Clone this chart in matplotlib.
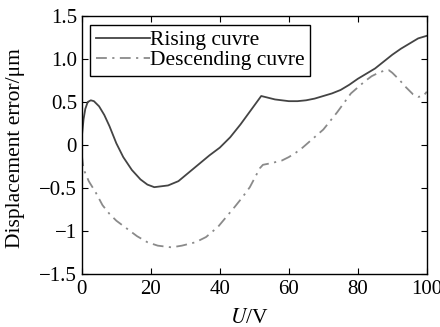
import matplotlib
matplotlib.use("Agg")
import matplotlib.pyplot as plt
import numpy as np

plt.rcParams['font.family'] = ['Liberation Serif', 'DejaVu Serif']
plt.rcParams['mathtext.fontset'] = 'stix'

# rising curve (U in V, error in um)
u_rise = [0, 0.5, 1, 1.7, 2.6, 3.5, 5, 6.5, 8, 10, 12, 14.5, 17, 19, 21, 23, 25,
          28, 31, 34, 37, 40, 43, 46, 48, 50, 52, 54, 56, 58, 60, 62.5, 65, 67.5,
          70, 72.5, 75, 77.5, 80, 82.5, 85, 87.5, 90, 92.5, 95, 97.5, 100]
e_rise = [0.10, 0.30, 0.42, 0.50, 0.52, 0.51, 0.45, 0.35, 0.22, 0.02, -0.14, -0.29,
          -0.40, -0.46, -0.49, -0.48, -0.47, -0.42, -0.32, -0.22, -0.12, -0.03, 0.09,
          0.24, 0.35, 0.46, 0.57, 0.55, 0.53, 0.52, 0.51, 0.51, 0.52, 0.54, 0.57,
          0.60, 0.64, 0.70, 0.77, 0.83, 0.89, 0.97, 1.05, 1.12, 1.18, 1.24, 1.27]

# descending curve
u_desc = [0, 0.5, 2, 4, 6, 8, 10, 13, 16, 19, 22, 26, 29, 33, 36, 39.5, 42, 44.3,
          46.5, 48.7, 51.6, 52.5, 55, 58, 60, 62, 64, 66, 68, 70, 72, 74, 76, 78,
          80, 82, 84, 86, 88, 89, 90, 92, 94, 96, 97.5, 99, 100]
e_desc = [-0.12, -0.28, -0.42, -0.55, -0.70, -0.80, -0.88, -0.97, -1.06, -1.13,
          -1.17, -1.19, -1.17, -1.13, -1.07, -0.95, -0.83, -0.72, -0.61, -0.49,
          -0.27, -0.23, -0.21, -0.18, -0.14, -0.09, -0.03, 0.04, 0.11, 0.18, 0.28,
          0.38, 0.49, 0.60, 0.67, 0.74, 0.80, 0.84, 0.87, 0.87, 0.84, 0.76, 0.67,
          0.59, 0.56, 0.57, 0.62]

xticks = [0, 20, 40, 60, 80, 100]
yticks = [1.5, 1.0, 0.5, 0, -0.5, -1, -1.5]
ytick_labels = ["1.5", "1.0", "0.5", "0", "\u22120.5", "\u22121", "\u22121.5"]

fig = plt.figure(figsize=(4.4, 3.27), dpi=100)
ax = fig.add_axes([0.186, 0.162, 0.784, 0.789])

ax.plot(u_rise, e_rise, color="#444444", lw=1.3, label="Rising cuvre")
ax.plot(u_desc, e_desc, color="#8a8a8a", lw=1.3, dashes=[6, 3, 1.2, 3],
        label="Descending cuvre")

ax.set_xlim(0, 100)
ax.set_ylim(-1.5, 1.5)
ax.set_xticks(xticks)
ax.set_yticks(yticks)
ax.set_yticklabels(ytick_labels)
ax.tick_params(direction="in", length=4.5, width=0.8, top=True, right=True,
               labelsize=15)
ax.tick_params(axis="x", pad=4)
ax.tick_params(axis="y", pad=3.5)
for s in ax.spines.values():
    s.set_linewidth(1.0)

ax.set_xlabel("$\\mathit{U}$/V", fontsize=15.5)
ax.set_ylabel("Displacement error/\u03bcm", fontsize=15.5)
ax.xaxis.set_label_coords(0.487, -0.135)
ax.yaxis.set_label_coords(-0.165, 0.49)

leg = ax.legend(loc="upper left", fontsize=15.5, handlelength=2.5,
                handletextpad=0.0, borderpad=0.25, labelspacing=0.0,
                borderaxespad=0.4, fancybox=False, edgecolor="black",
                framealpha=1)
leg.get_frame().set_linewidth(1.0)

fig.savefig("out.png", dpi=100)
